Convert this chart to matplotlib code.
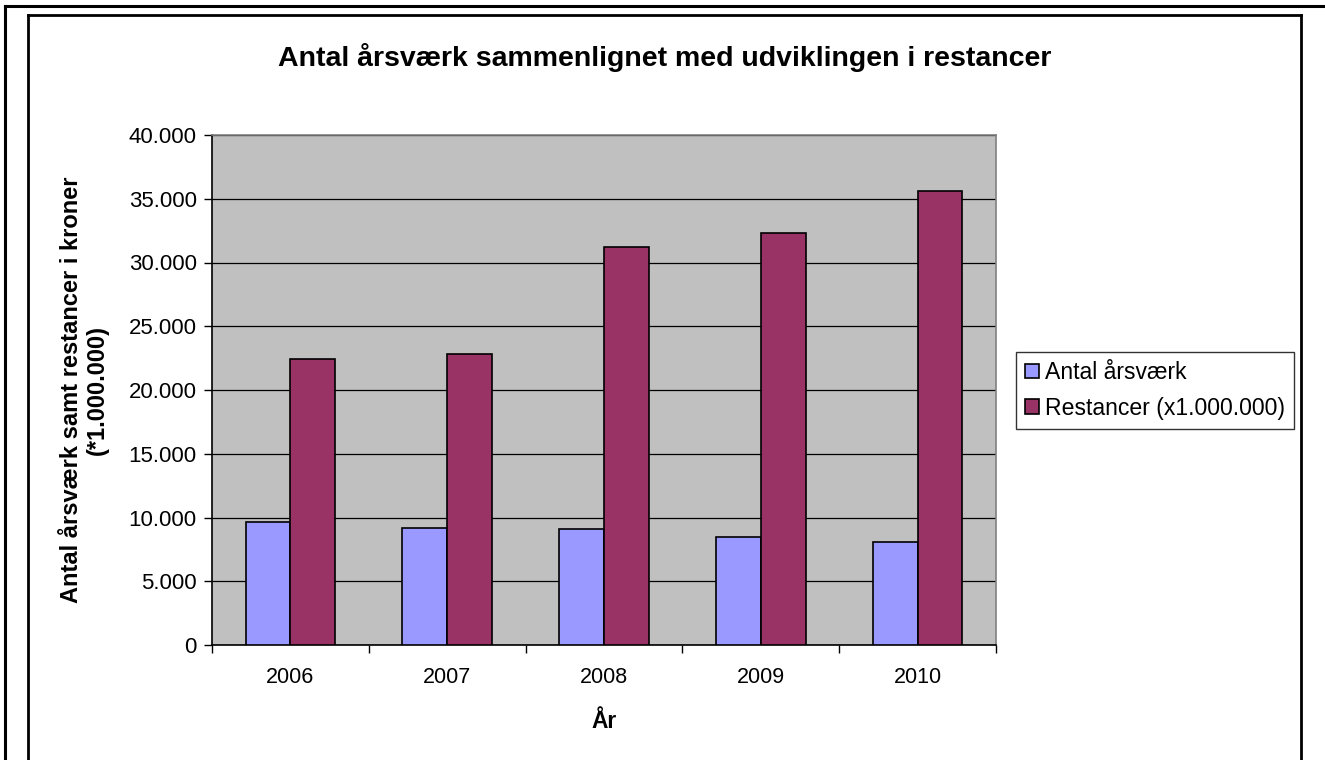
import matplotlib
matplotlib.use("Agg")
import matplotlib.pyplot as plt
from matplotlib.lines import Line2D
from matplotlib.ticker import FuncFormatter, MultipleLocator
import numpy as np

years = ["2006", "2007", "2008", "2009", "2010"]
aarsvaerk = [9650, 9200, 9100, 8500, 8100]
restancer = [22400, 22800, 31200, 32300, 35600]

series_names = ["Antal årsværk", "Restancer (x1.000.000)"]
colors = ["#9999FF", "#993366"]

plt.rcParams["font.family"] = ["Liberation Sans", "DejaVu Sans"]

W, H = 1325, 760
fig = plt.figure(figsize=(W / 100, H / 100), dpi=100)
fig.patch.set_facecolor("white")


def px(x, y):
    return x / W, 1 - y / H


# page border (left and top) and chart frame
for xs, ys, lw in [
    ([5, 5], [6, 770], 2.2),
    ([5, 1330], [6, 6], 2.2),
    ([28, 28], [15, 770], 2.0),
    ([28, 1301], [15, 15], 2.0),
    ([1301, 1301], [15, 770], 2.0),
]:
    p0, p1 = px(xs[0], ys[0]), px(xs[1], ys[1])
    fig.add_artist(Line2D([p0[0], p1[0]], [p0[1], p1[1]], color="black",
                          lw=lw, transform=fig.transFigure))

left, right, top, bottom = 212, 996, 135, 645
ax = fig.add_axes([left / W, 1 - bottom / H, (right - left) / W, (bottom - top) / H])
ax.set_facecolor("#C0C0C0")

x = np.arange(len(years))
bw = 0.2857
ax.bar(x - bw / 2, aarsvaerk, bw, color=colors[0], edgecolor="black",
       linewidth=1.2, label=series_names[0], zorder=3)
ax.bar(x + bw / 2, restancer, bw, color=colors[1], edgecolor="black",
       linewidth=1.2, label=series_names[1], zorder=3)

ax.set_xlim(-0.5, len(years) - 0.5)
ax.set_ylim(0, 40000)
ax.yaxis.set_major_locator(MultipleLocator(5000))
ax.yaxis.set_major_formatter(FuncFormatter(lambda v, p: f"{int(v):,}".replace(",", ".")))
ax.grid(axis="y", color="black", lw=0.9, zorder=1)

ax.set_xticks(x)
ax.set_xticklabels(years)
ax.set_xticks(np.arange(len(years) + 1) - 0.5, minor=True)
ax.tick_params(axis="x", which="major", length=0, pad=16, labelsize=15.5)
ax.tick_params(axis="x", which="minor", length=6, width=1, direction="out")
ax.tick_params(axis="y", length=6, width=1, direction="out", labelsize=16, pad=5)

for s in ["left", "bottom"]:
    ax.spines[s].set_color("black")
    ax.spines[s].set_linewidth(1.2)
for s in ["top", "right"]:
    ax.spines[s].set_color("#808080")
    ax.spines[s].set_linewidth(1.2)

ax.set_xlabel("År", fontsize=16.5, fontweight="bold", labelpad=16)
ax.set_ylabel("Antal årsværk samt restancer i kroner\n(*1.000.000)",
              fontsize=17, fontweight="bold", labelpad=14, linespacing=1.15)

fig.text(665 / W, 1 - 57 / H, "Antal årsværk sammenlignet med udviklingen i restancer",
         ha="center", va="center", fontsize=20.5, fontweight="bold")

leg = fig.legend(loc="upper left", bbox_to_anchor=(1016 / W, 1 - 352 / H),
                 frameon=True, fancybox=False, shadow=False, fontsize=16.6,
                 handlelength=0.6, handleheight=0.6, handletextpad=0.25,
                 borderpad=0.4, labelspacing=0.55, borderaxespad=0)
leg.get_frame().set_edgecolor("black")
leg.get_frame().set_linewidth(1.0)

fig.savefig("out.png", dpi=100)
